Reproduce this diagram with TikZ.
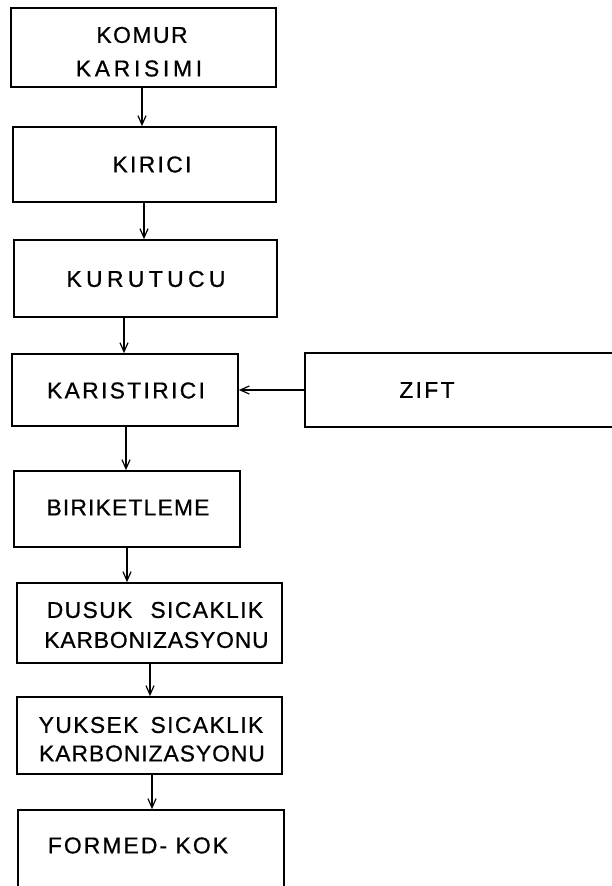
\documentclass[tikz,border=0pt]{standalone}
\usepackage{fontspec}
\setmainfont{Liberation Sans}
\usetikzlibrary{arrows.meta}
\newcommand\lsp[1]{\addfontfeature{LetterSpace=#1}}
\begin{document}
\begin{tikzpicture}[x=1bp,y=-1bp,
  box/.style={draw, line width=1.7bp, rectangle, inner sep=0pt},
  txt/.style={inner sep=0pt, anchor=center, font=\fontsize{23}{23}\selectfont\addfontfeature{FakeBold=0.7}},
  arr/.style={line width=1.2bp, -{Straight Barb[length=9bp,width=8bp,line width=1.2bp]}}]
\useasboundingbox (0,0) rectangle (612,886);
\clip (0,0) rectangle (612,886);
\fill[white] (0,0) rectangle (612,886);
% boxes
\node[box, minimum width=265bp, minimum height=79bp] (b1) at (143.5,47.5) {};
\node[box, minimum width=263bp, minimum height=75bp] (b2) at (144.5,164.5) {};
\node[box, minimum width=263bp, minimum height=77bp] (b3) at (145.5,278.5) {};
\node[box, minimum width=226bp, minimum height=72bp] (b4) at (125,390) {};
\node[box, minimum width=335bp, minimum height=74bp] (zift) at (472.5,390) {};
\node[box, minimum width=226bp, minimum height=76bp] (b5) at (127,509) {};
\node[box, minimum width=265bp, minimum height=80bp] (b6) at (149.5,623) {};
\node[box, minimum width=265bp, minimum height=77bp] (b7) at (149.5,735.5) {};
\node[box, minimum width=266bp, minimum height=110bp] (b8) at (151,865) {};
% texts
\node[txt] (t1a) at (142,35) {\lsp{6.5}KOMUR};
\node[txt] (t1b) at (139,68.5) {\lsp{16}KARISIMI};
\node[txt] (t2) at (152,164.5) {\lsp{10}KIRICI};
\node[txt] (t3) at (146,279) {\lsp{19}KURUTUCU};
\node[txt] (t4) at (126,390.5) {\lsp{10}KARISTIRICI};
\node[txt] (t5) at (427,390) {\lsp{10}ZIFT};
\node[txt] (t6) at (128,507.5) {\lsp{5}BIRIKETLEME};
\node[txt] (t7a) at (155,610) {\lsp{6}DUSUK\hspace{18bp}SICAKLIK};
\node[txt] (t7b) at (156.5,640) {\lsp{3.5}KARBONIZASYONU};
\node[txt] (t8a) at (151,725) {\lsp{6}YUKSEK\hspace{12bp}SICAKLIK};
\node[txt] (t8b) at (152,753.5) {\lsp{4}KARBONIZASYONU};
\node[txt] (t9) at (138,845.5) {\lsp{9}FORMED- KOK};
% connectors
\draw[arr] ([xshift=-1.5bp]b1.south) -- ([xshift=-1.5bp]b1.south |- b2.north);
\draw[arr] ([xshift=-0.5bp]b2.south) -- ([xshift=-0.5bp]b2.south |- b3.north);
\draw[arr] ([xshift=-21.5bp]b3.south) -- ([xshift=-21.5bp]b3.south |- b4.north);
\draw[arr] ([xshift=1bp]b4.south) -- ([xshift=1bp]b4.south |- b5.north);
\draw[arr] (b5.south) -- (b5.south |- b6.north);
\draw[arr] ([xshift=0.5bp]b6.south) -- ([xshift=0.5bp]b6.south |- b7.north);
\draw[arr] ([xshift=2.5bp]b7.south) -- ([xshift=2.5bp]b7.south |- b8.north);
\draw[arr] (zift.west) -- (b4.east);
\end{tikzpicture}
\end{document}
